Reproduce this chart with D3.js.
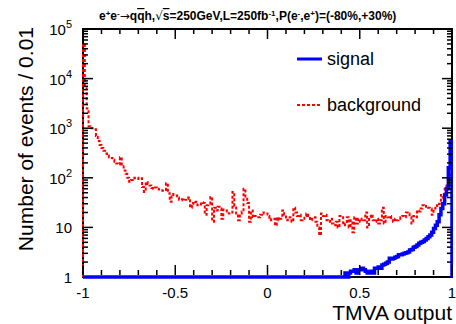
<!DOCTYPE html>
<html lang="en">
<head>
  <meta charset="UTF-8">
  <title>TMVA output</title>
  <script src="https://cdn.jsdelivr.net/npm/d3@7"></script>
  <style>
    html, body { margin: 0; padding: 0; background: #fff; }
    svg { display: block; font-family: "Liberation Sans", Arial, Helvetica, sans-serif; }
  </style>
</head>
<body>
  <div id="chart"></div>
  <script>
    // Histogram: 200 bins of width 0.01 from -1 to 1
    const binLow = -1;
    const binWidth = 0.01;

    const background = [
      50000, 7000, 2500, 1100, 1000, 1000, 950, 700, 550, 460,
      400, 350, 310, 280, 260, 250, 230, 210, 195, 185,
      260, 170, 140, 120, 100, 83, 90, 100, 98, 100,
      95, 98, 65, 52, 82, 75, 70, 62, 60, 64,
      60, 58, 56, 55, 57, 78, 49, 33, 47, 45,
      44, 40, 36, 37, 35, 36, 38, 40, 25, 31,
      30, 33, 28, 29, 32, 31, 18, 28, 30, 41,
      13, 25, 22, 26, 24, 15, 23, 22, 21, 19,
      20, 52, 27, 19, 14, 19, 21, 60, 40, 31,
      13, 22, 16, 17, 17, 16, 18, 20, 19, 19,
      17, 14, 15, 15, 11, 16, 14, 15, 22, 18,
      14, 15, 16, 13, 25, 20, 17, 18, 14, 15,
      17, 19, 17, 14, 15, 16, 13, 10, 7, 19,
      17, 18, 14, 13, 15, 12, 11, 13, 10, 17,
      17, 11, 12, 16, 10, 14, 8, 16, 12, 15,
      13, 15, 14, 20, 10, 16, 18, 14, 13, 15,
      12, 14, 25, 12, 17, 16, 17, 14, 13, 15,
      14, 15, 16, 17, 16, 20, 19, 16, 12, 17,
      16, 22, 21, 24, 28, 26, 27, 25, 24, 18,
      24, 28, 27, 30, 45, 40, 60, 78, 100, 115
    ];

    // bins below 1 sit on the axis floor
    const signal = [
      0, 0, 0, 0, 0, 0, 0, 0, 0, 0, 0, 0, 0, 0, 0, 0, 0, 0, 0, 0,
      0, 0, 0, 0, 0, 0, 0, 0, 0, 0, 0, 0, 0, 0, 0, 0, 0, 0, 0, 0,
      0, 0, 0, 0, 0, 0, 0, 0, 0, 0, 0, 0, 0, 0, 0, 0, 0, 0, 0, 0,
      0, 0, 0, 0, 0, 0, 0, 0, 0, 0, 0, 0, 0, 0, 0, 0, 0, 0, 0, 0,
      0, 0, 0, 0, 0, 0, 0, 0, 0, 0, 0, 0, 0, 0, 0, 0, 0, 0, 0, 0,
      0, 0, 0, 0, 0, 0, 0, 0, 0, 0, 0, 0, 0, 0, 0, 0, 0, 0, 0, 0,
      0, 0, 0, 0, 0, 0, 0, 0, 0, 0, 0, 0, 0, 0, 0, 0, 0, 0, 0, 0,
      0.8, 0.8, 1.2, 1.0, 1.2, 1.3, 1.3, 1.4, 1.2, 1.4,
      1.4, 1.5, 1.4, 1.3, 1.2, 1.2, 1.3, 1.2, 1.5, 1.5,
      1.6, 1.5, 1.75, 1.8, 1.9, 2.0, 2.4, 2.3, 2.4, 2.5,
      2.6, 2.8, 2.8, 2.9, 3.0, 3.1, 3.2, 3.5, 3.6, 4.0,
      4.1, 4.4, 4.8, 5.0, 5.2, 5.6, 6.0, 6.5, 7.0, 8.0,
      9.5, 11, 13, 18, 24, 30, 45, 60, 160, 550
    ];

    const xTicks = [-1, -0.5, 0, 0.5, 1];
    const xTickLabels = ["-1", "-0.5", "0", "0.5", "1"];
    const yDecades = [1, 10, 100, 1000, 10000, 100000];
    const yTickLabels = [["1", ""], ["10", ""], ["10", "2"], ["10", "3"], ["10", "4"], ["10", "5"]];

    const W = 456, H = 324;
    const pLeft = 83, pRight = 452, pTop = 29, pBottom = 277;

    const svg = d3.select('#chart').append('svg')
      .attr('width', W).attr('height', H);

    const x = d3.scaleLinear().domain([-1, 1]).range([pLeft, pRight]);
    const y = d3.scaleLog().domain([1, 100000]).range([pBottom, pTop]).clamp(true);

    svg.append('defs').append('clipPath').attr('id', 'plot')
      .append('rect').attr('x', pLeft - 1).attr('y', pTop - 2)
      .attr('width', pRight - pLeft + 2).attr('height', pBottom - pTop + 4);

    // frame
    svg.append('rect')
      .attr('x', pLeft).attr('y', pTop)
      .attr('width', pRight - pLeft).attr('height', pBottom - pTop)
      .attr('fill', 'none').attr('stroke', '#000').attr('stroke-width', 2);

    // step path of a histogram
    const stepPoints = vals => {
      const pts = [[x(binLow), y(1)]];
      vals.forEach((v, i) => {
        pts.push([x(binLow + i * binWidth), y(v)]);
        pts.push([x(binLow + (i + 1) * binWidth), y(v)]);
      });
      pts.push([x(binLow + vals.length * binWidth), y(1)]);
      return pts;
    };
    const line = d3.line();

    const plot = svg.append('g').attr('clip-path', 'url(#plot)');

    plot.append('path')
      .attr('d', line(stepPoints(background)))
      .attr('fill', 'none')
      .attr('stroke', '#ff0000')
      .attr('stroke-width', 2)
      .attr('stroke-dasharray', '3,2');

    plot.append('path')
      .attr('d', line(stepPoints(signal)))
      .attr('fill', 'none')
      .attr('stroke', '#0000ff')
      .attr('stroke-width', 3.5)
      .attr('stroke-linejoin', 'miter');

    // x ticks (bottom and top)
    const xMinor = d3.range(-10, 11).map(d => d / 10);
    const ticks = svg.append('g').attr('stroke', '#000').attr('stroke-width', 1.5);
    xMinor.forEach(t => {
      const major = xTicks.some(m => Math.abs(m - t) < 1e-9);
      const len = major ? 10 : 5;
      ticks.append('line').attr('x1', x(t)).attr('x2', x(t)).attr('y1', pBottom - 2).attr('y2', pBottom - 2 - len);
      ticks.append('line').attr('x1', x(t)).attr('x2', x(t)).attr('y1', pTop).attr('y2', pTop + len);
    });

    // y ticks (left and right)
    yDecades.forEach((d, i) => {
      if (i > 0) {
        ticks.append('line').attr('x1', pLeft).attr('x2', pLeft + 10).attr('y1', y(d)).attr('y2', y(d));
        ticks.append('line').attr('x1', pRight).attr('x2', pRight - 10).attr('y1', y(d)).attr('y2', y(d));
      }
      if (i < yDecades.length - 1) {
        for (let k = 2; k <= 9; k++) {
          const v = d * k;
          ticks.append('line').attr('x1', pLeft).attr('x2', pLeft + 5).attr('y1', y(v)).attr('y2', y(v));
          ticks.append('line').attr('x1', pRight).attr('x2', pRight - 5).attr('y1', y(v)).attr('y2', y(v));
        }
      }
    });

    // x tick labels
    svg.append('g').selectAll('text').data(xTicks).join('text')
      .attr('x', d => x(d))
      .attr('y', 298)
      .attr('text-anchor', 'middle')
      .attr('font-size', 15)
      .text((d, i) => xTickLabels[i]);

    // y tick labels
    const yl = svg.append('g').selectAll('text').data(yDecades).join('text')
      .attr('x', 72)
      .attr('y', d => y(d) + 6)
      .attr('text-anchor', 'end')
      .attr('font-size', 15);
    yl.append('tspan').text((d, i) => yTickLabels[i][0]);
    yl.append('tspan').attr('dy', -7).attr('font-size', 11).text((d, i) => yTickLabels[i][1]);

    // axis titles
    svg.append('text')
      .attr('x', pRight).attr('y', 320)
      .attr('text-anchor', 'end').attr('font-size', 21)
      .text('TMVA output');

    svg.append('text')
      .attr('transform', `translate(33,27) rotate(-90)`)
      .attr('text-anchor', 'end').attr('font-size', 21)
      .text('Number of events / 0.01');

    // title
    const title = svg.append('text')
      .attr('x', 99).attr('y', 20)
      .attr('font-size', 12).attr('font-weight', 'bold');
    title.append('tspan').text('e');
    title.append('tspan').attr('dy', -4).attr('font-size', 8).text('+');
    title.append('tspan').attr('dy', 4).text('e');
    title.append('tspan').attr('dy', -4).attr('font-size', 8).text('-');
    title.append('tspan').attr('dy', 4).attr('font-family', 'DejaVu Sans').attr('font-weight', 'normal').text('\u2192');
    title.append('tspan').text('q');
    title.append('tspan').attr('text-decoration', 'overline').text('q');
    title.append('tspan').text('h,');
    title.append('tspan').attr('font-family', 'DejaVu Sans').attr('font-weight', 'normal').text('\u221A');
    title.append('tspan').attr('text-decoration', 'overline').text('s');
    title.append('tspan').text('=250GeV,L=250fb');
    title.append('tspan').attr('dy', -4).attr('font-size', 8).text('-1');
    title.append('tspan').attr('dy', 4).text(',P(e');
    title.append('tspan').attr('dy', -4).attr('font-size', 8).text('-');
    title.append('tspan').attr('dy', 4).text(',e');
    title.append('tspan').attr('dy', -4).attr('font-size', 8).text('+');
    title.append('tspan').attr('dy', 4).text(')=(-80%,+30%)');

    // legend
    const legend = [
      { label: 'signal', color: '#0000ff', width: 3, dash: null, y: 59 },
      { label: 'background', color: '#ff0000', width: 2, dash: '3,2', y: 105 }
    ];
    const lg = svg.append('g').selectAll('g').data(legend).join('g');
    lg.append('line')
      .attr('x1', 297).attr('x2', 322)
      .attr('y1', d => d.y).attr('y2', d => d.y)
      .attr('stroke', d => d.color)
      .attr('stroke-width', d => d.width)
      .attr('stroke-dasharray', d => d.dash);
    lg.append('text')
      .attr('x', 327).attr('y', d => d.y + 6)
      .attr('font-size', 18)
      .text(d => d.label);
  </script>
</body>
</html>
